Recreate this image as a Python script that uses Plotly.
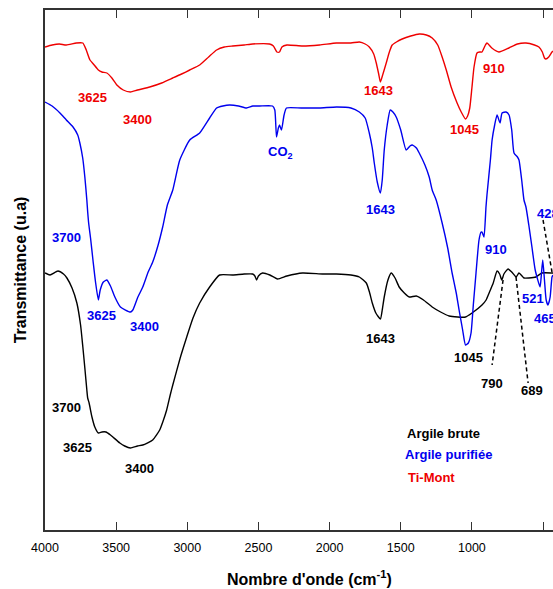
import plotly.graph_objects as go

# FTIR spectra: wavenumber (cm-1) and transmittance (arbitrary units, offset per sample)
wn_brute = [4000, 3965, 3909, 3870, 3846, 3810, 3776, 3750, 3734, 3720, 3706, 3700, 3690, 3670,
            3650, 3625, 3600, 3572, 3540, 3523, 3474, 3440, 3400, 3350, 3313, 3243, 3194, 3170,
            3145, 3120, 3102, 3050, 3004, 2960, 2913, 2843, 2773, 2681, 2600, 2541, 2525, 2513,
            2500, 2471, 2420, 2366, 2300, 2190, 2050, 1952, 1850, 1791, 1742, 1720, 1700, 1675,
            1643, 1630, 1616, 1590, 1567, 1540, 1511, 1475, 1440, 1391, 1340, 1279, 1220, 1160,
            1100, 1045, 999, 929, 900, 879, 850, 823, 805, 790, 775, 746, 720, 689, 669, 634, 600,
            550, 508, 437, 430]
t_brute = [257, 255, 259, 256, 252, 242, 227, 205, 183, 162, 140, 132, 127, 113,
           103, 97, 98, 98, 95, 93, 87, 84, 82, 84, 85, 90, 100, 109,
           120, 135, 145, 172, 193, 212, 227, 243, 255, 255, 256, 256, 254, 250,
           254, 257, 255, 251, 254, 257, 256, 256, 255, 253, 247, 238, 227, 217,
           211, 220, 233, 250, 257, 252, 243, 237, 233, 234, 230, 223, 218, 214,
           213, 213, 217, 225, 230, 237, 247, 259, 256, 250, 256, 261, 258, 253, 257, 252, 252,
           253, 257, 257, 257]

wn_purif = [4000, 3950, 3895, 3850, 3803, 3770, 3755, 3735, 3720, 3706, 3700, 3694, 3689, 3680,
            3663, 3645, 3625, 3612, 3590, 3565, 3540, 3509, 3470, 3400, 3383, 3350, 3313, 3275,
            3243, 3205, 3173, 3140, 3102, 3053, 2983, 2913, 2843, 2794, 2750, 2703, 2640, 2584,
            2540, 2492, 2401, 2385, 2373, 2360, 2352, 2338, 2320, 2303, 2200, 2072, 1950, 1850,
            1791, 1750, 1721, 1700, 1686, 1665, 1643, 1630, 1616, 1595, 1574, 1555, 1532, 1500,
            1462, 1435, 1419, 1390, 1370, 1330, 1300, 1279, 1251, 1209, 1170, 1139, 1110, 1090,
            1065, 1045, 1025, 1006, 990, 971, 950, 935, 929, 915, 901, 894, 870, 858, 840, 823,
            802, 788, 760, 739, 720, 704, 680, 669, 650, 634, 620, 600, 578, 555, 521, 512, 502,
            490, 478, 465, 450, 437, 430]
t_purif = [428, 424, 417, 410, 403, 395, 387, 372, 353, 330, 318, 308, 302, 292,
           270, 248, 230, 240, 248, 250, 244, 233, 223, 218, 220, 232, 243, 258,
           268, 285, 303, 325, 340, 370, 390, 397, 412, 422, 424, 425, 424, 422,
           424, 424, 424, 420, 393, 402, 405, 400, 415, 422, 422, 422, 423, 422,
           418, 412, 397, 382, 367, 348, 337, 350, 380, 405, 420, 418, 413, 400,
           380, 384, 385, 382, 377, 365, 353, 340, 330, 307, 282, 257, 237, 220,
           200, 185, 187, 197, 225, 257, 290, 298, 298, 293, 323, 335, 370, 390, 405, 415,
           407, 417, 418, 415, 400, 377, 373, 370, 350, 330, 323, 305, 283, 260, 243, 255, 270,
           250, 230, 225, 233, 253, 255]

wn_timont = [4000, 3950, 3900, 3850, 3780, 3734, 3710, 3684, 3660, 3625, 3600, 3565, 3530, 3495,
             3450, 3400, 3350, 3264, 3180, 3102, 3040, 2983, 2913, 2850, 2794, 2740, 2681, 2600,
             2541, 2422, 2395, 2370, 2352, 2335, 2300, 2190, 2070, 1952, 1850, 1791, 1750, 1721,
             1690, 1672, 1655, 1643, 1625, 1602, 1580, 1560, 1530, 1490, 1430, 1370, 1320, 1279,
             1240, 1209, 1180, 1146, 1104, 1075, 1045, 1030, 1015, 1000, 985, 964, 945, 929, 905,
             894, 860, 810, 740, 680, 620, 560, 529, 505, 490, 480, 460, 437, 430]
t_timont = [483, 485, 486, 485, 487, 487, 480, 470, 466, 460, 458, 457, 452, 445,
            440, 438, 440, 443, 447, 452, 456, 460, 465, 473, 480, 483, 484, 485,
            486, 486, 484, 478, 478, 483, 485, 484, 485, 487, 487, 488, 486, 483,
            476, 467, 456, 448, 456, 467, 478, 485, 488, 491, 494, 496, 495, 492,
            485, 473, 460, 443, 427, 418, 411, 414, 422, 442, 463, 477, 478, 478, 485,
            487, 482, 478, 482, 486, 487, 485, 483, 478, 472, 471, 473, 478, 479]

# Band labels: (text, wavenumber, transmittance, anchor)
labels_brute = [("3700", 3852, 123, "center"), ("3625", 3775, 83, "center"),
                ("3400", 3339, 62, "center"), ("1643", 1644, 192, "center"),
                ("1045", 1027, 173, "center"), ("790", 858, 147, "center"),
                ("689", 577, 140, "center")]
labels_purif = [("3700", 3846, 293, "center"), ("3625", 3600, 215, "center"),
                ("3400", 3299, 204, "center"), ("CO<sub>2</sub>", 2345, 378, "center"),
                ("1643", 1644, 321, "center"), ("910", 830, 281, "center"),
                ("428", 560, 317, "left"), ("521", 570, 232, "center"),
                ("465", 580, 212, "left")]
labels_timont = [("3625", 3663, 433, "center"), ("3400", 3348, 411, "center"),
                 ("1643", 1658, 440, "center"), ("1045", 1055, 401, "center"),
                 ("910", 844, 462, "center")]

# Leader lines from labels to bands: (wn0, t0, wn1, t1)
leaders = [(500, 310, 437, 258), (781, 250, 858, 165), (690, 253, 605, 147)]

# Sample names and their colours
series_names = ["Argile brute", "Argile purifiée", "Ti-Mont"]
series_colors = ["#000000", "#0000ee", "#ee0000"]
legend_pos = [(1470, 97), (1484, 76), (1463, 53)]

FONT = "Arial, Liberation Sans, sans-serif"

fig = go.Figure()
for wn, t, name, col in zip([wn_brute, wn_purif, wn_timont],
                            [t_brute, t_purif, t_timont], series_names, series_colors):
    fig.add_trace(go.Scatter(x=wn, y=t, mode="lines", name=name,
                             line=dict(color=col, width=1.4, shape="spline", smoothing=0.5),
                             showlegend=False))

for wn0, t0, wn1, t1 in leaders:
    fig.add_trace(go.Scatter(x=[wn0, wn1], y=[t0, t1], mode="lines",
                             line=dict(color="black", width=1.5, dash="4px,3px"),
                             showlegend=False, hoverinfo="skip"))

annotations = []
for labs, col in zip([labels_brute, labels_purif, labels_timont], series_colors):
    for text, x, y, anchor in labs:
        annotations.append(dict(x=x, y=y, xref="x", yref="y", text=f"<b>{text}</b>",
                                showarrow=False, xanchor=anchor, yanchor="middle",
                                font=dict(family=FONT, size=13, color=col)))

for name, col, (x, y) in zip(series_names, series_colors, legend_pos):
    annotations.append(dict(x=x, y=y, xref="x", yref="y", text=f"<b>{name}</b>",
                            showarrow=False, xanchor="left", yanchor="middle",
                            font=dict(family=FONT, size=13, color=col)))

# Horizontal axis title, centred slightly right of the plot area
annotations.append(dict(x=0.52, y=0, xref="paper", yref="paper", yshift=-48,
                        text="<b>Nombre d'onde (cm<sup>-1</sup>)</b>", showarrow=False,
                        xanchor="center", yanchor="middle",
                        font=dict(family=FONT, size=16, color="black")))

fig.update_layout(
    width=553, height=589,
    margin=dict(l=45, r=0, t=10, b=59),
    paper_bgcolor="white", plot_bgcolor="white",
    annotations=annotations,
    xaxis=dict(range=[4000, 430], tickvals=[4000, 3500, 3000, 2500, 2000, 1500, 1000, 500],
               ticks="inside", ticklen=8, tickwidth=1.2, tickcolor="#333",
               showline=True, linecolor="#333", linewidth=1.5, mirror="ticks",
               showgrid=False, zeroline=False, ticklabelstandoff=5,
               tickfont=dict(family=FONT, size=12.5, color="black")),
    yaxis=dict(range=[0, 520], showticklabels=False, ticks="",
               showline=True, linecolor="#333", linewidth=1.5,
               showgrid=False, zeroline=False,
               title=dict(text="<b>Transmittance (u.a)</b>",
                          font=dict(family=FONT, size=16, color="black"), standoff=13)),
)

fig.write_html("out.html")
